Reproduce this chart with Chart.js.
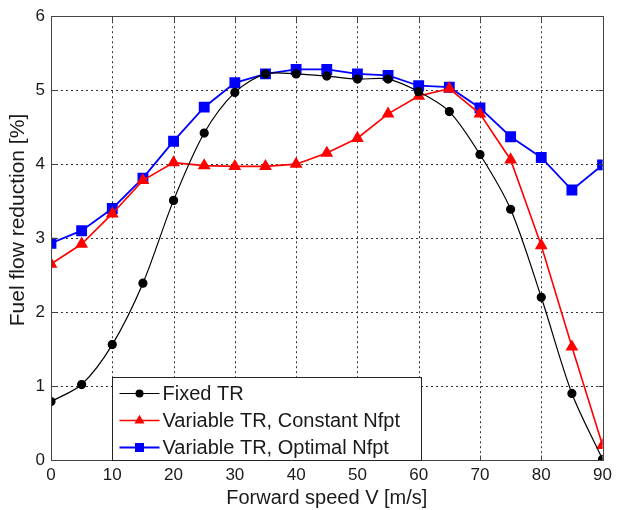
<!DOCTYPE html>
<html>
<head>
<meta charset="utf-8">
<script src="https://cdn.jsdelivr.net/npm/chart.js@4/dist/chart.umd.min.js"></script>
<style>
  html, body { margin: 0; padding: 0; background: #fff; }
  #wrap { width: 617px; height: 510px; position: relative; }
</style>
</head>
<body>
<div id="wrap"><canvas id="chart"></canvas></div>
<script>
// Velocidades (m/s)
const velocidades = [0, 5, 10, 15, 20, 25, 30, 35, 40, 45, 50, 55, 60, 65, 70, 75, 80, 85, 90];

// Reduccion de consumo [%]
const fixedTR = [0.79, 1.02, 1.56, 2.39, 3.51, 4.42, 4.97, 5.22, 5.22, 5.19, 5.15, 5.15, 4.98, 4.71, 4.13, 3.39, 2.20, 0.90, 0.01];
const variableConst = [2.65, 2.92, 3.33, 3.78, 4.02, 3.98, 3.97, 3.97, 4.00, 4.15, 4.35, 4.68, 4.92, 5.02, 4.68, 4.06, 2.90, 1.53, 0.20];
const variableOpt = [2.93, 3.10, 3.40, 3.81, 4.31, 4.77, 5.10, 5.22, 5.28, 5.28, 5.22, 5.20, 5.06, 5.04, 4.76, 4.37, 4.09, 3.65, 3.99];

const xTicks = [0, 10, 20, 30, 40, 50, 60, 70, 80, 90];
const yTicks = [0, 1, 2, 3, 4, 5, 6];
const yTitulo = 'Fuel flow reduction [%]';

const negro = '#000000';
const rojo = '#FF0000';
const azul = '#0000FF';
const texto = '#1a1a1a';
const fuente = 'Liberation Sans, Arial, sans-serif';

const puntos = arr => arr.map((v, i) => ({ x: velocidades[i], y: v }));

// Rejilla punteada (estilo matlab)
const rejilla = {
  id: 'rejilla',
  beforeDatasetsDraw(chart) {
    const { ctx, chartArea: a, scales: { x, y } } = chart;
    ctx.save();
    ctx.strokeStyle = '#333';
    ctx.lineWidth = 1;
    ctx.setLineDash([2, 3]);
    ctx.beginPath();
    xTicks.forEach(v => {
      const px = Math.round(x.getPixelForValue(v)) + 0.5;
      ctx.moveTo(px, a.top);
      ctx.lineTo(px, a.bottom);
    });
    yTicks.forEach(v => {
      const py = Math.round(y.getPixelForValue(v)) + 0.5;
      ctx.moveTo(a.left, py);
      ctx.lineTo(a.right, py);
    });
    ctx.stroke();
    ctx.restore();

    // titulo del eje y (un poco por encima del centro, como en el original)
    ctx.save();
    ctx.translate(18, 220);
    ctx.rotate(-Math.PI / 2);
    ctx.font = '21px ' + fuente;
    ctx.fillStyle = texto;
    ctx.textAlign = 'center';
    ctx.textBaseline = 'middle';
    ctx.fillText(yTitulo, 0, 0);
    ctx.restore();
  }
};

// Marco del grafico + leyenda dentro del area
const marcoLeyenda = {
  id: 'marcoLeyenda',
  afterDatasetsDraw(chart) {
    const { ctx, chartArea: a, scales: { x, y } } = chart;
    ctx.save();
    ctx.strokeStyle = '#444';
    ctx.lineWidth = 1;
    const L = Math.round(a.left) + 0.5, R = Math.round(a.right) + 0.5;
    const T = Math.round(a.top) + 0.5, B = Math.round(a.bottom) + 0.5;
    ctx.strokeRect(L, T, R - L, B - T);
    // marcas de los ejes hacia adentro
    ctx.beginPath();
    xTicks.forEach(v => {
      const px = Math.round(x.getPixelForValue(v)) + 0.5;
      ctx.moveTo(px, B); ctx.lineTo(px, B - 5);
      ctx.moveTo(px, T); ctx.lineTo(px, T + 5);
    });
    yTicks.forEach(v => {
      const py = Math.round(y.getPixelForValue(v)) + 0.5;
      ctx.moveTo(L, py); ctx.lineTo(L + 5, py);
      ctx.moveTo(R, py); ctx.lineTo(R - 5, py);
    });
    ctx.stroke();

    // leyenda
    const x0 = L + 61, y0 = B - 83, w = 309, h = 83;
    ctx.fillStyle = '#fff';
    ctx.fillRect(x0, y0, w, h);
    ctx.strokeStyle = '#222';
    ctx.strokeRect(x0, y0, w, h);
    ctx.font = '20px ' + fuente;
    ctx.textBaseline = 'middle';
    chart.data.datasets.forEach((ds, i) => {
      const cy = y0 + 16 + i * 27;
      ctx.strokeStyle = ds.borderColor;
      ctx.lineWidth = ds.borderWidth;
      ctx.beginPath();
      ctx.moveTo(x0 + 7, cy);
      ctx.lineTo(x0 + 47, cy);
      ctx.stroke();
      ctx.fillStyle = ds.borderColor;
      const r = ds.pointRadius;
      const cx = x0 + 27;
      ctx.beginPath();
      if (ds.pointStyle === 'circle') {
        ctx.arc(cx, cy, r, 0, Math.PI * 2);
      } else if (ds.pointStyle === 'triangle') {
        ctx.moveTo(cx, cy - r);
        ctx.lineTo(cx + r * 0.87, cy + r * 0.5);
        ctx.lineTo(cx - r * 0.87, cy + r * 0.5);
        ctx.closePath();
      } else {
        const s = r * Math.SQRT1_2;
        ctx.rect(cx - s, cy - s, 2 * s, 2 * s);
      }
      ctx.fill();
      ctx.fillStyle = texto;
      ctx.fillText(ds.label, x0 + 50, cy + 1);
    });
    ctx.restore();
  }
};

new Chart(document.getElementById('chart'), {
  type: 'line',
  data: {
    datasets: [
      {
        label: 'Fixed TR',
        data: puntos(fixedTR),
        borderColor: negro,
        backgroundColor: negro,
        borderWidth: 1.2,
        pointStyle: 'circle',
        pointRadius: 4,
        tension: 0.3
      },
      {
        label: 'Variable TR, Constant Nfpt',
        data: puntos(variableConst),
        borderColor: rojo,
        backgroundColor: rojo,
        borderWidth: 1.6,
        pointStyle: 'triangle',
        pointRadius: 5.8,
        tension: 0
      },
      {
        label: 'Variable TR, Optimal Nfpt',
        data: puntos(variableOpt),
        borderColor: azul,
        backgroundColor: azul,
        borderWidth: 1.8,
        pointStyle: 'rect',
        pointRadius: 6.4,
        tension: 0
      }
    ]
  },
  options: {
    responsive: true,
    maintainAspectRatio: false,
    animation: false,
    layout: { padding: { left: 4, right: 0, top: 14, bottom: 0 } },
    plugins: {
      legend: { display: false },
      tooltip: { enabled: false }
    },
    scales: {
      x: {
        type: 'linear',
        min: 0,
        max: 90,
        afterBuildTicks: s => { s.ticks = xTicks.map(v => ({ value: v })); },
        afterFit: s => { s.height = 50; },
        ticks: { color: texto, font: { size: 17, family: fuente }, padding: 5 },
        grid: { display: false, drawTicks: false },
        border: { display: false },
        title: { display: true, text: 'Forward speed V [m/s]', color: texto, font: { size: 20, family: fuente }, padding: { top: 0, bottom: 0 } }
      },
      y: {
        min: 0,
        max: 6,
        afterBuildTicks: s => { s.ticks = yTicks.map(v => ({ value: v })); },
        afterFit: s => { s.width = 47; },
        ticks: { color: texto, font: { size: 17, family: fuente }, padding: 6 },
        grid: { display: false, drawTicks: false },
        border: { display: false }
      }
    }
  },
  plugins: [rejilla, marcoLeyenda]
});
</script>
</body>
</html>
